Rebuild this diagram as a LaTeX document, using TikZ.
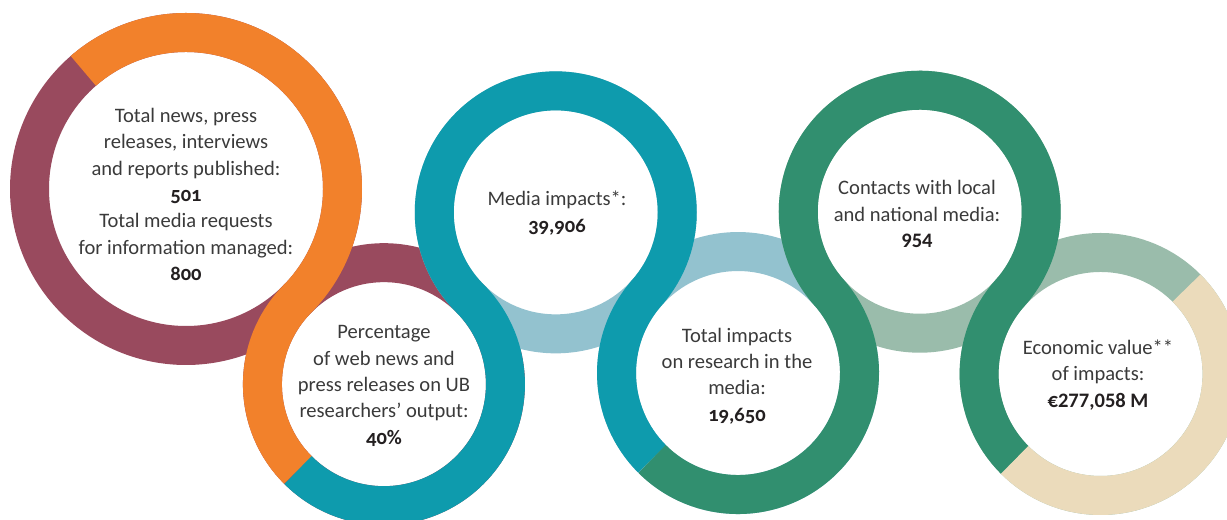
\documentclass[tikz,border=0pt]{standalone}
\usepackage{fontspec}
\setmainfont{Carlito}
\newfontfamily\numfont{Carlito}[Numbers=OldStyle]
\usepackage{tikz}
\definecolor{wine}{HTML}{994A5E}
\definecolor{orangeA}{HTML}{F2812B}
\definecolor{tealA}{HTML}{0E9BAD}
\definecolor{skyA}{HTML}{93C2CF}
\definecolor{greenA}{HTML}{318F6F}
\definecolor{sageA}{HTML}{9ABCAB}
\definecolor{sandA}{HTML}{EBDBBB}
\definecolor{inkA}{HTML}{3A3A3A}
\definecolor{numA}{HTML}{231F20}
\newcommand{\statnum}[1]{\textcolor{numA}{\textbf{#1}}}

\begin{document}
\begin{tikzpicture}[x=0.02cm,y=0.02cm,
        ring/.style={line width=0.78cm},
        stat/.style={align=center,text=inkA,font=\fontsize{11.7}{15}\selectfont}]
    \useasboundingbox (0,0) rectangle (1227,520);
    \coordinate (c1) at (186,331);
    \coordinate (c2) at ([shift={(-44.6:278)}]c1);
    \coordinate (c3) at ([shift={(45:243)}]c2);
    \coordinate (c4) at ([shift={(-41.4:243)}]c3);
    \coordinate (c5) at ([shift={(41.6:243)}]c4);
    \coordinate (c6) at ([shift={(-41.9:243)}]c5);
    \draw[ring,wine] (c1) circle[radius=156.5];
    \draw[ring,wine] (c2) circle[radius=121.5];
    \draw[ring,skyA] (c3) circle[radius=121.5];
    \draw[ring,skyA] (c4) circle[radius=121.5];
    \draw[ring,sageA] (c5) circle[radius=121.5];
    \draw[ring,sageA] (c6) circle[radius=121.5];
    \draw[ring,orangeA] ([shift={(131:156.5)}]c1) arc[start angle=131,end angle=-44.6,radius=156.5]
        arc[start angle=135.4,end angle=225,radius=121.5];
    \draw[ring,tealA] ([shift={(225:121.5)}]c2) arc[start angle=225,end angle=405,radius=121.5]
        arc[start angle=225,end angle=-41.4,radius=121.5] arc[start angle=138.6,end angle=225,radius=121.5];
    \draw[ring,greenA] ([shift={(225:121.5)}]c4) arc[start angle=225,end angle=401.6,radius=121.5]
        arc[start angle=221.6,end angle=-41.9,radius=121.5] arc[start angle=138.1,end angle=225,radius=121.5];
    \draw[ring,sandA] ([shift={(225:121.5)}]c6) arc[start angle=225,end angle=405,radius=121.5];
    \node[stat] (t1) at (186,325.5) {Total news, press\\releases, interviews\\and reports published:\\\statnum{\numfont 501}\\Total media requests\\for information managed:\\\statnum{\numfont 800}};
    \node[stat] (t2) at (384,134) {Percentage\\of web news and\\press releases on UB\\researchers’ output:\\\statnum{\numfont 40\%}};
    \node[stat] (t3) at (557,307) {Media impacts*:\\\statnum{\numfont 39,906}};
    \node[stat] (t4) at (737,144) {Total impacts\\on research in the\\media:\\\statnum{\numfont 19,650}};
    \node[stat] (t5) at (917,306) {Contacts with local\\and national media:\\\statnum{954}};
    \node[stat] (t6) at (1098,145) {Economic value**\\of impacts:\\\statnum{€277,058 M}};
\end{tikzpicture}
\end{document}
